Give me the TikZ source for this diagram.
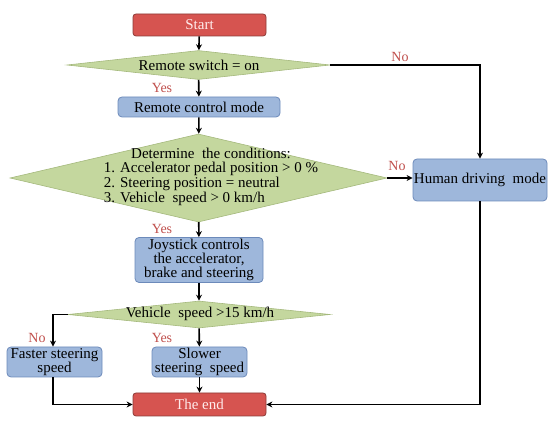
\documentclass[tikz,border=0pt]{standalone}
\usepackage{fontspec}
\setmainfont{Liberation Serif}
\usetikzlibrary{shapes.geometric,arrows.meta}
\definecolor{redfill}{RGB}{214,84,80}
\definecolor{redline}{RGB}{140,60,56}
\definecolor{bluefill}{RGB}{158,183,219}
\definecolor{blueline}{RGB}{108,138,186}
\definecolor{greenfill}{RGB}{196,215,158}
\definecolor{greenline}{RGB}{165,185,125}
\definecolor{labred}{RGB}{192,80,77}
\begin{document}
\begin{tikzpicture}[x=1pt,y=-1pt,
  txt/.style={font=\fontsize{15}{14}\selectfont, inner sep=0pt, align=center},
  term/.style={rectangle, rounded corners=3pt, draw=redline, fill=redfill, line width=0.8pt,
    text=white!92!red, font=\fontsize{15}{14}\selectfont, inner sep=0pt},
  proc/.style={rectangle, rounded corners=4pt, draw=blueline, fill=bluefill, line width=0.8pt,
    font=\fontsize{15}{14}\selectfont, inner sep=0pt, align=center},
  dia/.style={diamond, draw=greenline, fill=greenfill, line width=0.6pt, inner sep=0pt},
  lab/.style={text=labred, font=\fontsize{14}{14}\selectfont, inner sep=0pt},
  arr/.style={line width=1.6pt, -{Stealth[length=6pt,width=6pt]}},
  ln/.style={line width=1.6pt}
]
\useasboundingbox (0,0) rectangle (550,422);

\node[term, minimum width=133pt, minimum height=22pt] (start) at (199.5,25) {Start};
\node[dia, minimum width=263pt, minimum height=29pt] (d1) at (198.5,65) {};
\node[txt] (d1t) at (199,65) {Remote switch = on};
\node[proc, minimum width=162pt, minimum height=20pt] (rc) at (199,107) {Remote control mode};
\node[dia, minimum width=377pt, minimum height=88pt] (d2) at (198.5,178) {};
\node[txt] (d2t) at (211,177) {\begin{tabular}{@{}l@{}}\multicolumn{1}{@{}c@{}}{Determine\ \ the conditions:}\\
1. Accelerator pedal position > 0 \%\\
2. Steering position = neutral\\
3. Vehicle\ \ speed > 0 km/h\end{tabular}};
\node[proc, minimum width=134pt, minimum height=42pt] (hum) at (480,180) {Human driving\ \ mode};
\node[proc, minimum width=128pt, minimum height=45pt] (joy) at (199,260) {Joystick controls\\the accelerator,\\brake and steering};
\node[dia, minimum width=262pt, minimum height=27pt] (d3) at (199,314.5) {};
\node[txt] (d3t) at (200,314) {Vehicle\ \ speed >15 km/h};
\node[proc, minimum width=95pt, minimum height=30pt] (fast) at (54.5,362) {Faster steering\\speed};
\node[proc, minimum width=95pt, minimum height=30pt] (slow) at (199.5,362) {Slower\\steering\ \ speed};
\node[term, minimum width=133pt, minimum height=23pt] (end) at (199.5,404.5) {The end};

\coordinate (c1) at (480,65);
\coordinate (c2) at (53,314.5);
\coordinate (c3) at (53,404.5);
\coordinate (c4) at (480,404.5);

\draw[arr] (start) -- (d1);
\draw[arr] (d1) -- (rc);
\draw[arr] (rc) -- (d2);
\draw[arr] (d2) -- (joy);
\draw[arr] (joy) -- (d3);
\draw[arr] (d3) -- (slow);
\draw[arr] (slow) -- (end);
\draw[arr] (d1.east) -- (c1) -- (hum.north);
\draw[arr] (d2.east) -- (d2.east -| hum.west);
\draw[arr] (d3.west) -- (c2) -- (fast.north -| c2);
\draw[arr] (fast.south -| c3) -- (c3) -- (end.west);
\draw[arr] (hum.south) -- (c4) -- (end.east);

\node[lab] (y1) at (162,88) {Yes};
\node[lab] (n1) at (400,57) {No};
\node[lab] (n2) at (397,166) {No};
\node[lab] (y2) at (162,229) {Yes};
\node[lab] (n3) at (37,338) {No};
\node[lab] (y3) at (162,338) {Yes};
\end{tikzpicture}
\end{document}
